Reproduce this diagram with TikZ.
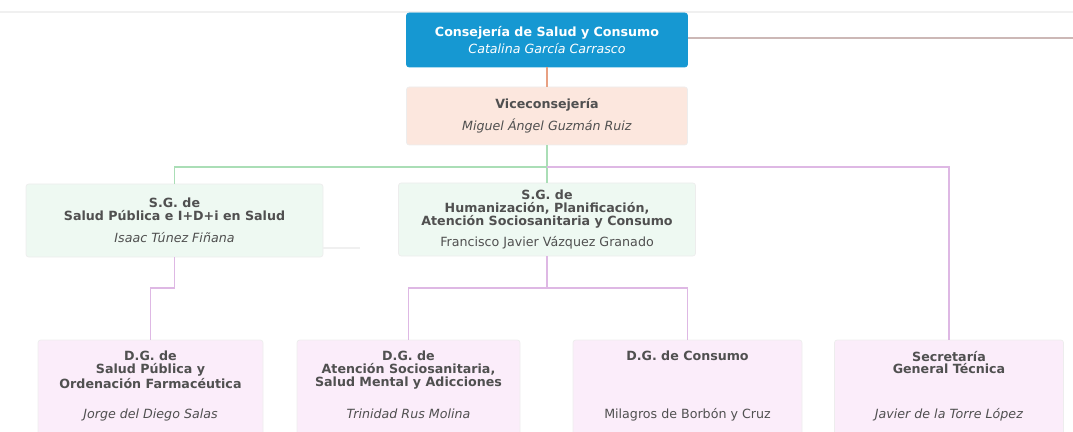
\documentclass[tikz,border=0pt]{standalone}
\usepackage{fontspec}
\setmainfont{DejaVu Sans}
\usetikzlibrary{positioning}

\definecolor{topblue}{RGB}{22,152,210}
\definecolor{vicefill}{RGB}{252,231,222}
\definecolor{sgfill}{RGB}{238,249,242}
\definecolor{dgfill}{RGB}{251,237,250}
\definecolor{txtgray}{RGB}{80,80,80}
\definecolor{orangeline}{RGB}{232,160,130}
\definecolor{greenline}{RGB}{170,222,182}
\definecolor{purpleline}{RGB}{222,184,228}
\definecolor{sideline}{RGB}{204,184,182}
\definecolor{faintgray}{RGB}{240,240,240}

\begin{document}
\begin{tikzpicture}[
	box/.style={rounded corners=1.5pt,draw=black!7,align=center,inner sep=0pt,text=txtgray,font=\fontsize{7.2}{7.3}\selectfont},
	dgbox/.style={box,fill=dgfill,minimum height=2.4cm},
	dgtitle/.style={align=center,inner sep=0pt,text=txtgray,font=\fontsize{7.2}{7.3}\selectfont\bfseries},
	dgname/.style={anchor=base,inner sep=0pt,text=txtgray,font=\fontsize{7.2}{7.3}\selectfont},
	conn/.style={line width=1pt}
]
	\useasboundingbox (0,0) rectangle (21.46,-8.64);
	\clip (0,0) rectangle (21.46,-8.64);

	\coordinate (tl) at (0,-0.24);
	\coordinate (tr) at (21.46,-0.24);
	\draw[faintgray,line width=0.6pt] (tl) -- (tr);

	\node[box,fill=topblue,text=white,draw=topblue,minimum width=5.62cm,minimum height=1.08cm] (top) at (10.94,-0.80)
		{\textbf{Consejería de Salud y Consumo}\\[1.8pt]\textit{Catalina García Carrasco}};

	\node[box,fill=vicefill,minimum width=5.62cm,minimum height=1.16cm] (vice) at (10.94,-2.32)
		{\textbf{Viceconsejería}\\[3.4pt]\textit{Miguel Ángel Guzmán Ruiz}};

	\node[box,fill=sgfill,minimum width=5.94cm,minimum height=1.46cm] (sg1) at (3.49,-4.41)
		{\textbf{S.G. de}\\\textbf{Salud Pública e I+D+i en Salud}\\[5.6pt]\textit{Isaac Túnez Fiñana}};

	\node[box,fill=sgfill,minimum width=5.94cm,minimum height=1.46cm] (sg2) at (10.94,-4.39)
		{\textbf{S.G. de}\\\textbf{Humanización, Planificación,}\\\textbf{Atención Sociosanitaria y Consumo}\\[3.4pt]Francisco Javier Vázquez Granado};

	\node[dgbox,minimum width=4.5cm] (dg1) at (3.01,-8.0) {};
	\node[dgbox,minimum width=4.46cm] (dg2) at (8.17,-8.0) {};
	\node[dgbox,minimum width=4.58cm] (dg3) at (13.75,-8.0) {};
	\node[dgbox,minimum width=4.58cm] (sec) at (18.98,-8.0) {};

	\node[dgtitle,below=0.22cm of dg1.north] (dg1t) {D.G. de\\Salud Pública y\\Ordenación Farmacéutica};
	\node[dgtitle,below=0.22cm of dg2.north] (dg2t) {D.G. de\\Atención Sociosanitaria,\\Salud Mental y Adicciones};
	\node[dgtitle,below=0.22cm of dg3.north] (dg3t) {D.G. de Consumo};
	\node[dgtitle,below=0.22cm of sec.north] (sect) {Secretaría\\General Técnica};

	\node[dgname] (dg1n) at ([yshift=-1.58cm]dg1.north) {\textit{Jorge del Diego Salas}};
	\node[dgname] (dg2n) at ([yshift=-1.58cm]dg2.north) {\textit{Trinidad Rus Molina}};
	\node[dgname] (dg3n) at ([yshift=-1.58cm]dg3.north) {Milagros de Borbón y Cruz};
	\node[dgname] (secn) at ([yshift=-1.58cm]sec.north) {\textit{Javier de la Torre López}};

	\coordinate (gj) at (10.94,-3.34);
	\coordinate (pj) at (10.94,-5.76);
	\coordinate (rEnd) at (21.46,-0.76);
	\coordinate (fEnd) at (7.2,-4.96);

	\draw[conn,sideline] (top.east |- rEnd) -- (rEnd);
	\draw[faintgray,line width=0.6pt] (sg1.east |- fEnd) -- (fEnd);
	\draw[conn,orangeline] (top.south) -- (vice.north);
	\draw[conn,greenline] (vice.south) -- (gj) -- (sg2.north);
	\draw[conn,greenline] (gj) -| (sg1.north);
	\draw[conn,purpleline] (gj) -| (sec.north);
	\draw[conn,purpleline] (sg1.south) -- (sg1.south |- pj) -| (dg1.north);
	\draw[conn,purpleline] (sg2.south) -- (pj);
	\draw[conn,purpleline] (dg2.north) |- (pj) -| (dg3.north);
\end{tikzpicture}
\end{document}
